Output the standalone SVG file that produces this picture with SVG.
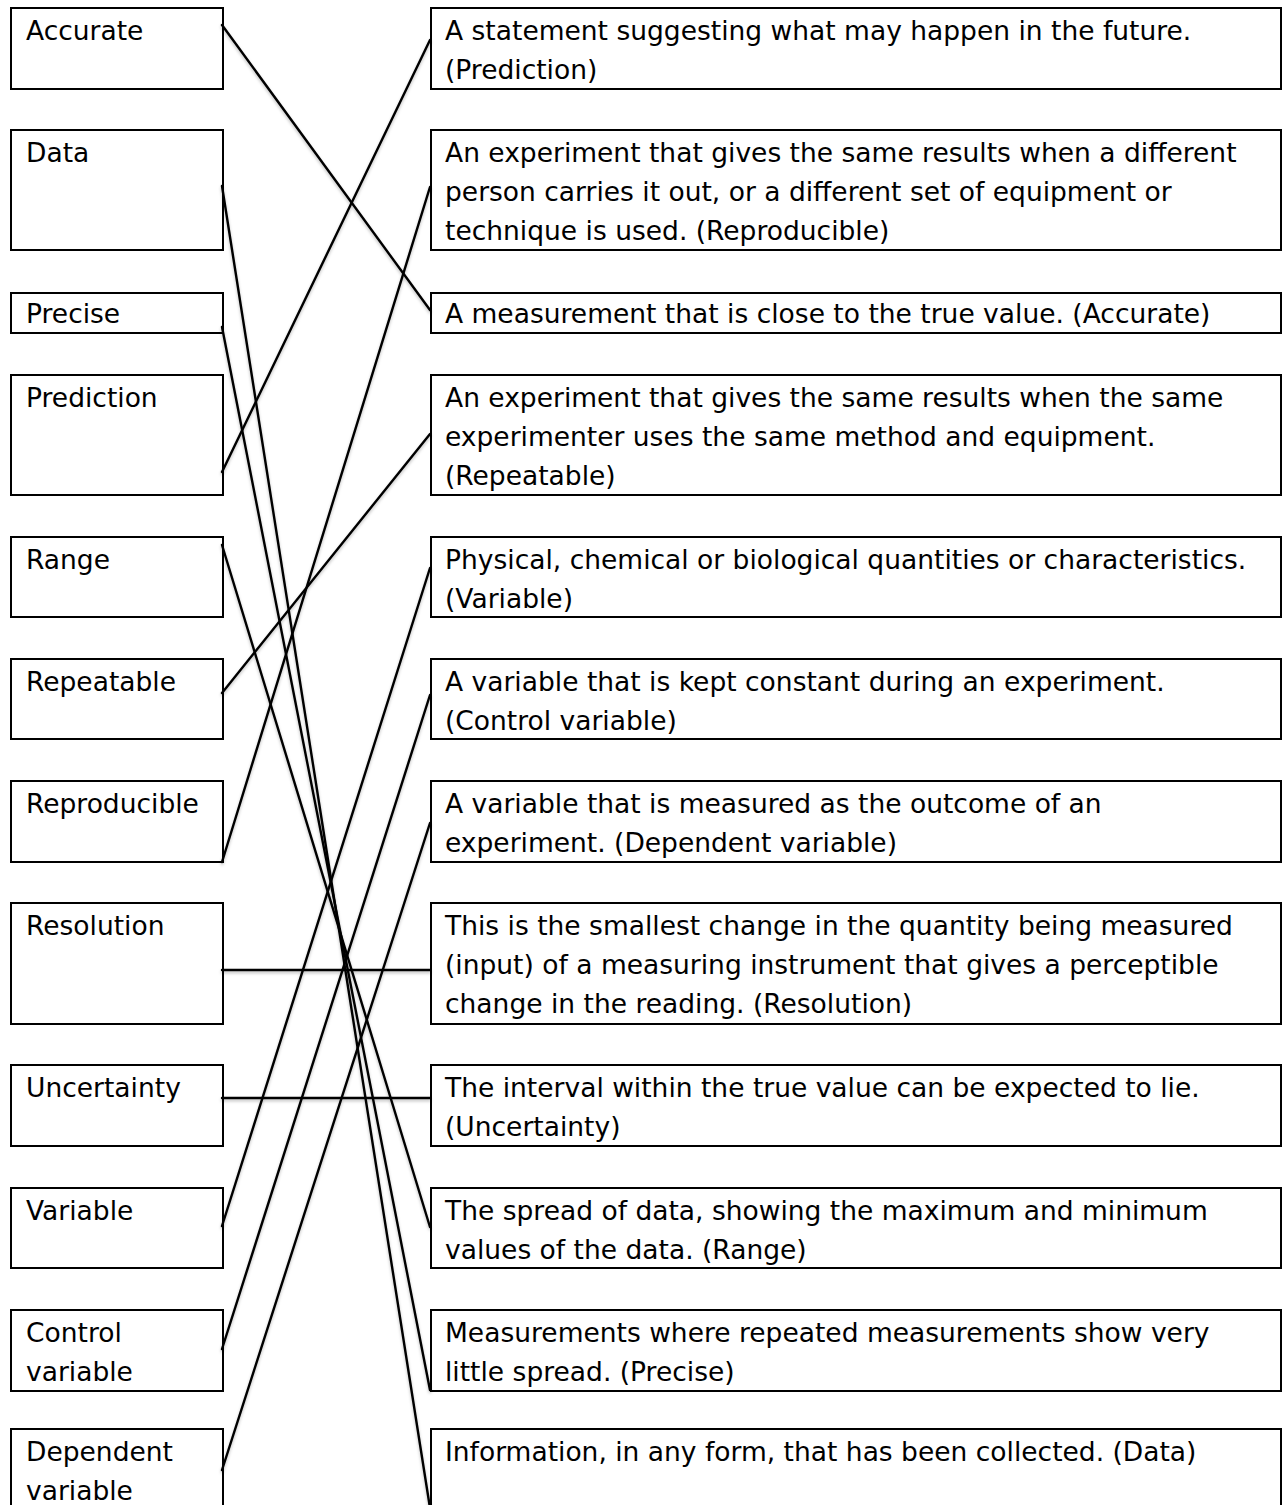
<svg xmlns="http://www.w3.org/2000/svg" width="1282" height="1505" viewBox="0 0 1282 1505">
<defs>
<style>
.box{fill:#fff;stroke:#000;stroke-width:2}
.t{font-family:"DejaVu Sans","Liberation Sans",sans-serif;font-size:26.5px;fill:#000}
.c{stroke:#000;stroke-width:2.4;fill:none;stroke-linecap:round}
</style>
<filter id="sh" x="-10%" y="-10%" width="120%" height="120%">
<feDropShadow dx="0" dy="2" stdDeviation="1.5" flood-color="#000" flood-opacity="0.25"/>
</filter>
</defs>
<rect width="1282" height="1505" fill="#fff"/>
<g id="left">
<g id="l-accurate"><rect class="box" x="11" y="8" width="212" height="81"/><text class="t" x="26" y="40">Accurate</text></g>
<g id="l-data"><rect class="box" x="11" y="130" width="212" height="120"/><text class="t" x="26" y="162">Data</text></g>
<g id="l-precise"><rect class="box" x="11" y="293" width="212" height="40"/><text class="t" x="26" y="323">Precise</text></g>
<g id="l-prediction"><rect class="box" x="11" y="375" width="212" height="120"/><text class="t" x="26" y="407">Prediction</text></g>
<g id="l-range"><rect class="box" x="11" y="537" width="212" height="80"/><text class="t" x="26" y="569">Range</text></g>
<g id="l-repeatable"><rect class="box" x="11" y="659" width="212" height="80"/><text class="t" x="26" y="691">Repeatable</text></g>
<g id="l-reproducible"><rect class="box" x="11" y="781" width="212" height="81"/><text class="t" x="26" y="813">Reproducible</text></g>
<g id="l-resolution"><rect class="box" x="11" y="903" width="212" height="121"/><text class="t" x="26" y="935">Resolution</text></g>
<g id="l-uncertainty"><rect class="box" x="11" y="1065" width="212" height="81"/><text class="t" x="26" y="1097">Uncertainty</text></g>
<g id="l-variable"><rect class="box" x="11" y="1188" width="212" height="80"/><text class="t" x="26" y="1220">Variable</text></g>
<g id="l-control"><rect class="box" x="11" y="1310" width="212" height="81"/><text class="t" x="26" y="1342">Control</text><text class="t" x="26" y="1381">variable</text></g>
<g id="l-dependent"><rect class="box" x="11" y="1429" width="212" height="90"/><text class="t" x="26" y="1461">Dependent</text><text class="t" x="26" y="1500">variable</text></g>
</g>
<g id="right">
<g id="r-prediction"><rect class="box" x="431" y="8" width="850" height="81"/><text class="t" x="445" y="40">A statement suggesting what may happen in the future.</text><text class="t" x="445" y="79">(Prediction)</text></g>
<g id="r-reproducible"><rect class="box" x="431" y="130" width="850" height="120"/><text class="t" x="445" y="162">An experiment that gives the same results when a different</text><text class="t" x="445" y="201">person carries it out, or a different set of equipment or</text><text class="t" x="445" y="240">technique is used. (Reproducible)</text></g>
<g id="r-accurate"><rect class="box" x="431" y="293" width="850" height="40"/><text class="t" x="445" y="323">A measurement that is close to the true value. (Accurate)</text></g>
<g id="r-repeatable"><rect class="box" x="431" y="375" width="850" height="120"/><text class="t" x="445" y="407">An experiment that gives the same results when the same</text><text class="t" x="445" y="446">experimenter uses the same method and equipment.</text><text class="t" x="445" y="485">(Repeatable)</text></g>
<g id="r-variable"><rect class="box" x="431" y="537" width="850" height="80"/><text class="t" x="445" y="569">Physical, chemical or biological quantities or characteristics.</text><text class="t" x="445" y="608">(Variable)</text></g>
<g id="r-control"><rect class="box" x="431" y="659" width="850" height="80"/><text class="t" x="445" y="691">A variable that is kept constant during an experiment.</text><text class="t" x="445" y="730">(Control variable)</text></g>
<g id="r-dependent"><rect class="box" x="431" y="781" width="850" height="81"/><text class="t" x="445" y="813">A variable that is measured as the outcome of an</text><text class="t" x="445" y="852">experiment. (Dependent variable)</text></g>
<g id="r-resolution"><rect class="box" x="431" y="903" width="850" height="121"/><text class="t" x="445" y="935">This is the smallest change in the quantity being measured</text><text class="t" x="445" y="974">(input) of a measuring instrument that gives a perceptible</text><text class="t" x="445" y="1013">change in the reading. (Resolution)</text></g>
<g id="r-uncertainty"><rect class="box" x="431" y="1065" width="850" height="81"/><text class="t" x="445" y="1097">The interval within the true value can be expected to lie.</text><text class="t" x="445" y="1136">(Uncertainty)</text></g>
<g id="r-range"><rect class="box" x="431" y="1188" width="850" height="80"/><text class="t" x="445" y="1220">The spread of data, showing the maximum and minimum</text><text class="t" x="445" y="1259">values of the data. (Range)</text></g>
<g id="r-precise"><rect class="box" x="431" y="1310" width="850" height="81"/><text class="t" x="445" y="1342">Measurements where repeated measurements show very</text><text class="t" x="445" y="1381">little spread. (Precise)</text></g>
<g id="r-data"><rect class="box" x="431" y="1429" width="850" height="90"/><text class="t" x="445" y="1461">Information, in any form, that has been collected. (Data)</text></g>
</g>
<g id="connectors" filter="url(#sh)">
<line class="c" x1="222" y1="25" x2="430" y2="310"/>
<line class="c" x1="222" y1="186" x2="430" y2="1508"/>
<line class="c" x1="222" y1="327" x2="430" y2="1390"/>
<line class="c" x1="222" y1="472" x2="430" y2="40"/>
<line class="c" x1="222" y1="545" x2="430" y2="1227"/>
<line class="c" x1="222" y1="693" x2="430" y2="434"/>
<line class="c" x1="222" y1="862" x2="430" y2="187"/>
<line class="c" x1="222" y1="970" x2="430" y2="970"/>
<line class="c" x1="222" y1="1098" x2="430" y2="1098"/>
<line class="c" x1="222" y1="1226" x2="430" y2="568"/>
<line class="c" x1="222" y1="1349" x2="430" y2="695"/>
<line class="c" x1="222" y1="1470" x2="430" y2="823"/>
</g>
</svg>
